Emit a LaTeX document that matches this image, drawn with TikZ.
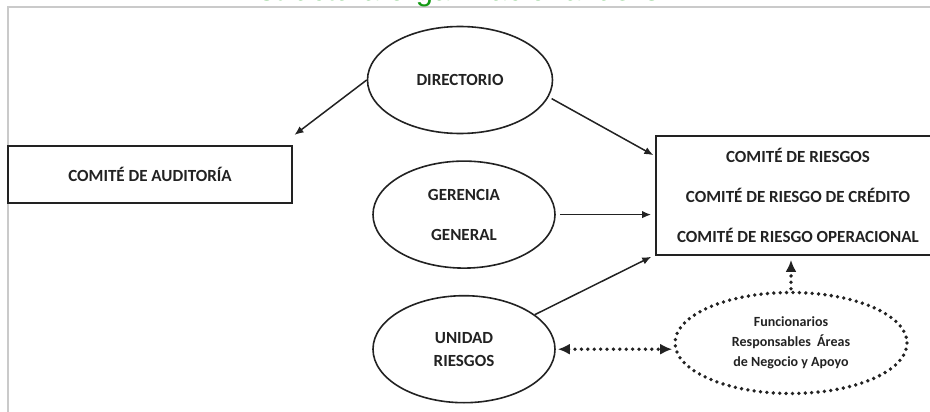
\documentclass[tikz,border=0pt]{standalone}
\usepackage{fontspec}
\setmainfont{Carlito}
\newfontfamily\titlefont{Liberation Sans}
\usetikzlibrary{arrows.meta,positioning,shapes.geometric}
\definecolor{orgTitle}{HTML}{139A13}
\definecolor{orgLine}{HTML}{222222}
\definecolor{orgFrame}{HTML}{CACACA}

\begin{document}
\begin{tikzpicture}[x=1pt, y=-1pt,
    node distance=26pt,
    ov/.style={draw=orgLine, line width=1.6pt, ellipse, inner sep=0pt,
      minimum width=182pt, minimum height=107pt, text=orgLine,
      font=\bfseries\fontsize{17}{40}\selectfont, align=center},
    bx/.style={draw=orgLine, line width=1.8pt, inner sep=0pt,
      minimum width=284pt, text=orgLine,
      font=\bfseries\fontsize{17}{40}\selectfont, align=center},
    arr/.style={-{Latex[length=9pt,width=7.5pt]}, line width=1.5pt, orgLine,
      shorten >=2pt},
    dots/.style={line width=3.8pt, dash pattern=on 0pt off 6.4pt,
      line cap=round, orgLine},
    dtip/.style={Latex[length=12pt,width=11pt]}]
  \useasboundingbox (0,0) rectangle (930,412);
  \clip (0,0) rectangle (930,412);
  \draw[orgFrame, line width=1.5pt] (8,420) |- (940,7);
  \node[font=\titlefont\fontsize{31}{31}\selectfont, text=orgTitle,
    anchor=base] (ttl) at (465,1) {Estructura organizacional de CIA};
  \node[ov, minimum width=185pt] (dir) at (460,80) {DIRECTORIO};
  \node[ov, below=of dir, xshift=4pt] (ger) {GERENCIA\\GENERAL};
  \node[ov, below=of ger, font=\bfseries\fontsize{17}{23}\selectfont] (uni)
    {UNIDAD\\RIESGOS};
  \node[bx, minimum height=57pt] (aud) at (150,174.5) {COMITÉ DE AUDITORÍA};
  \node[bx, minimum height=119pt] (rc) at (798,195.5)
    {COMITÉ DE RIESGOS\\COMITÉ DE RIESGO DE CRÉDITO\\COMITÉ DE RIESGO OPERACIONAL};
  \node[ov, draw=none, minimum width=232pt, minimum height=101pt,
    font=\bfseries\fontsize{14}{20}\selectfont] (fun) at (791,343)
    {Funcionarios\\Responsables~~Áreas\\de Negocio y Apoyo};
  \draw[dots] (fun.center) ellipse [x radius=116, y radius=50.5];
  \draw[arr] (dir.west) -- ([yshift=9pt]aud.north east);
  \draw[arr] ([xshift=4pt]dir.-12) -- ([yshift=-21pt]rc.north west);
  \draw[arr] ([xshift=4pt]ger.east) -- ([xshift=-2pt]ger.east -| rc.west);
  \draw[arr] (uni.26) -- ([xshift=-2pt]rc.south west);
  \draw[dots, {Latex[length=12pt,width=11pt]}-{Latex[length=12pt,width=11pt]}]
    ([xshift=2pt]uni.east) -- ([xshift=-2pt]uni.east -| fun.west);
  \draw[dots, -{Latex[length=12pt,width=11pt]}]
    ([yshift=3pt]fun.north) -- ([yshift=-4pt]fun.north |- rc.south);
\end{tikzpicture}
\end{document}
